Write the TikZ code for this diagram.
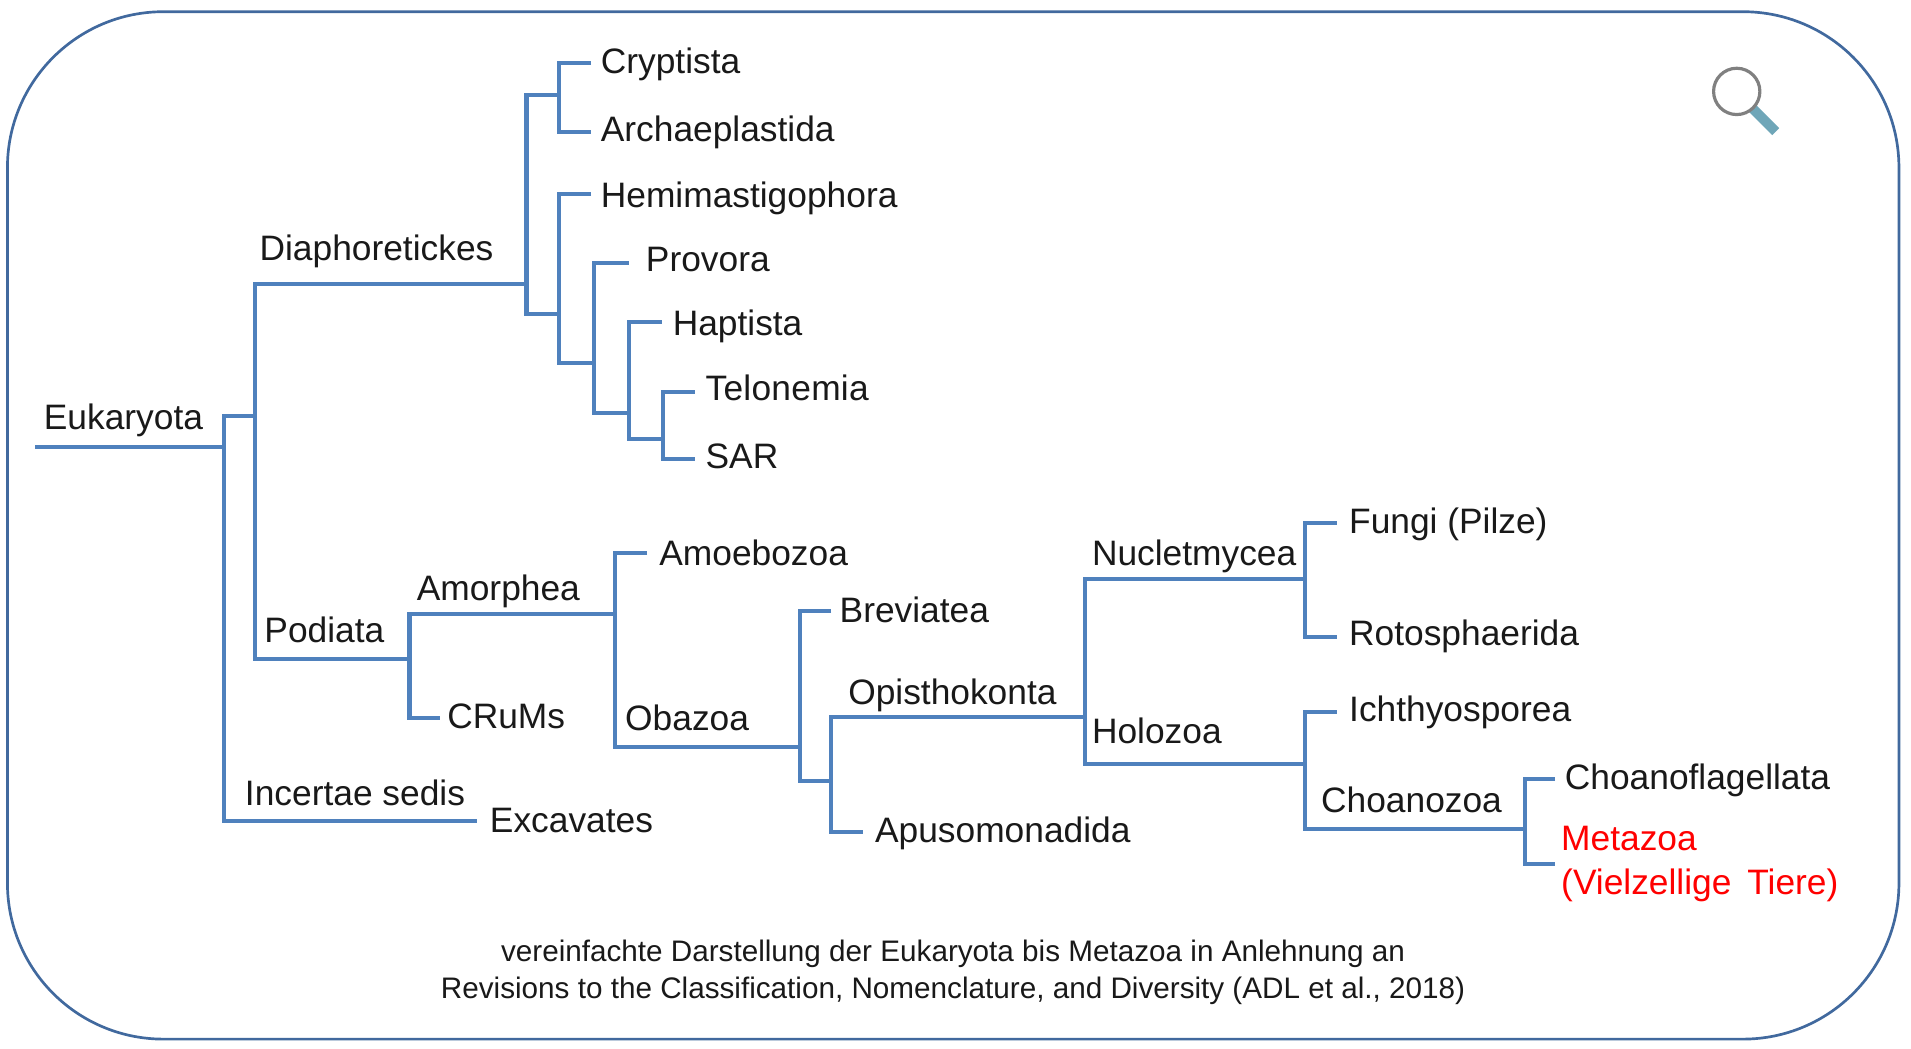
\documentclass[tikz,border=0pt]{standalone}
\usepackage{fontspec}
\setmainfont{Liberation Sans}
\definecolor{linkblue}{HTML}{4F81BD}
\definecolor{framec}{HTML}{41699E}
\definecolor{handle}{HTML}{6FA6B8}
\begin{document}
\begin{tikzpicture}[x=1pt,y=-1pt,
  link/.style={draw=linkblue,line width=3.3pt,line join=miter},
  lab/.style={anchor=base west,inner sep=0pt,outer sep=0pt,font=\fontsize{29}{29}\selectfont,text=black!90},
  redlab/.style={lab,text=red},
  capt/.style={anchor=base,inner sep=0pt,font=\fontsize{24.35}{25}\selectfont,text=black!90},
  frame/.style={draw=framec,line width=2.2pt,rounded corners=128pt}]
\useasboundingbox (0,0) rectangle (1568,860);
\path[fill=white] (0,0) rectangle (1568,860);
\node[frame,draw,minimum width=1552pt,minimum height=843pt,inner sep=0pt,anchor=north west] (box) at (5,8.5) {};
\begin{scope}[yshift=-1pt]
% labels
\node[lab] (eu) at (36,351) {Eukaryota};
\node[lab] (dia) at (213,213) {Diaphoretickes};
\node[lab] (pod) at (217,526.5) {Podiata};
\node[lab] (inc) at (201,660) {Incertae sedis};
\node[lab] (exc) at (402,682) {Excavates};
\node[lab] (cry) at (493,59) {Cryptista};
\node[lab] (arc) at (493,115) {Archaeplastida};
\node[lab] (hem) at (493,169) {Hemimastigophora};
\node[lab] (pro) at (530,222) {Provora};
\node[lab] (hap) at (552,274) {Haptista};
\node[lab] (tel) at (579,328) {\addfontfeature{LetterSpace=0.7}Telonemia};
\node[lab] (sar) at (579,383) {SAR};
\node[lab] (amo) at (342,492) {Amorphea};
\node[lab] (cru) at (367,597) {CRuMs};
\node[lab] (amb) at (541,463) {Amoebozoa};
\node[lab] (oba) at (513,598) {Obazoa};
\node[lab] (bre) at (689,510) {Breviatea};
\node[lab] (opi) at (696,577) {Opisthokonta};
\node[lab] (apu) at (718,690) {Apusomonadida};
\node[lab] (nuc) at (896,463) {Nucletmycea};
\node[lab] (hol) at (896,609) {Holozoa};
\node[lab] (fun) at (1107,437) {Fungi (Pilze)};
\node[lab] (rot) at (1107,529) {Rotosphaerida};
\node[lab] (ich) at (1107,591) {Ichthyosporea};
\node[lab] (cho) at (1084,666) {Choanozoa};
\node[lab] (chf) at (1284,647) {Choanoflagellata};
\node[redlab] (met) at (1281,697) {Metazoa};
\node[redlab] (vie) at (1281,733) {(Vielzellige\hspace{5pt} Tiere)};
\node[capt] (c1) at (782,788) {vereinfachte Darstellung der Eukaryota bis Metazoa in Anlehnung an};
\node[capt] (c2) at (782,818) {Revisions to the Classification, Nomenclature, and Diversity (ADL et al., 2018)};
% junctions
\coordinate (r0) at (29,366);
\coordinate (r1) at (184,366);
\coordinate (a1) at (184,340);
\coordinate (a2) at (209,340);
\coordinate (a3) at (184,673);
\coordinate (a4) at (391,673);
\coordinate (b1) at (209,232);
\coordinate (b2) at (432,232);
\coordinate (b3) at (209,540);
\coordinate (b4) at (336,540);
\coordinate (d1) at (432,77);
\coordinate (d2) at (459,77);
\coordinate (d3) at (432,257);
\coordinate (d4) at (459,257);
\coordinate (e1) at (485,51);
\coordinate (e2) at (459,51);
\coordinate (e3) at (459,107);
\coordinate (e4) at (485,107);
\coordinate (f1) at (485,158);
\coordinate (f2) at (459,158);
\coordinate (f3) at (459,297);
\coordinate (f4) at (487,297);
\coordinate (g1) at (516,215);
\coordinate (g2) at (487,215);
\coordinate (g3) at (487,338);
\coordinate (g4) at (516,338);
\coordinate (h1) at (543,263);
\coordinate (h2) at (516,263);
\coordinate (h3) at (516,359);
\coordinate (h4) at (544,359);
\coordinate (i1) at (570,321);
\coordinate (i2) at (544,321);
\coordinate (i3) at (544,376);
\coordinate (i4) at (570,376);
\coordinate (j1) at (505,503);
\coordinate (j2) at (336,503);
\coordinate (j3) at (336,588);
\coordinate (j4) at (361,588);
\coordinate (k1) at (531,453);
\coordinate (k2) at (505,453);
\coordinate (k3) at (505,612);
\coordinate (k4) at (656,612);
\coordinate (l1) at (682,500);
\coordinate (l2) at (656,500);
\coordinate (l3) at (656,640);
\coordinate (l4) at (682,640);
\coordinate (m1) at (890,587);
\coordinate (m2) at (682,587);
\coordinate (m3) at (682,682);
\coordinate (m4) at (708,682);
\coordinate (n1) at (1071,474);
\coordinate (n2) at (890,474);
\coordinate (n3) at (890,626);
\coordinate (n4) at (1071,626);
\coordinate (o1) at (1097,428);
\coordinate (o2) at (1071,428);
\coordinate (o3) at (1071,522);
\coordinate (o4) at (1097,522);
\coordinate (p1) at (1097,583);
\coordinate (p2) at (1071,583);
\coordinate (p3) at (1071,679);
\coordinate (p4) at (1251,679);
\coordinate (q1) at (1276,638);
\coordinate (q2) at (1251,638);
\coordinate (q3) at (1251,708);
\coordinate (q4) at (1276,708);
% connectors
\draw[link] (r0) -- (r1);
\draw[link] (a2) -- (a1) -- (a3) -- (a4);
\draw[link] (b2) -- (b1) -- (b3) -- (b4);
\draw[link] (d2) -- (d1) -- (d3) -- (d4);
\draw[link] (e1) -- (e2) -- (e3) -- (e4);
\draw[link] (f1) -- (f2) -- (f3) -- (f4);
\draw[link] (g1) -- (g2) -- (g3) -- (g4);
\draw[link] (h1) -- (h2) -- (h3) -- (h4);
\draw[link] (i1) -- (i2) -- (i3) -- (i4);
\draw[link] (j1) -- (j2) -- (j3) -- (j4);
\draw[link] (k1) -- (k2) -- (k3) -- (k4);
\draw[link] (l1) -- (l2) -- (l3) -- (l4);
\draw[link] (m1) -- (m2) -- (m3) -- (m4);
\draw[link] (n1) -- (n2) -- (n3) -- (n4);
\draw[link] (o1) -- (o2) -- (o3) -- (o4);
\draw[link] (p1) -- (p2) -- (p3) -- (p4);
\draw[link] (q1) -- (q2) -- (q3) -- (q4);
% magnifier
\draw[line width=8pt,color=handle] (1438,88) -- (1457,107);
\draw[line width=2.6pt,color=black!50,fill=white] (1425,74) circle (19pt);
\end{scope}
\end{tikzpicture}
\end{document}
